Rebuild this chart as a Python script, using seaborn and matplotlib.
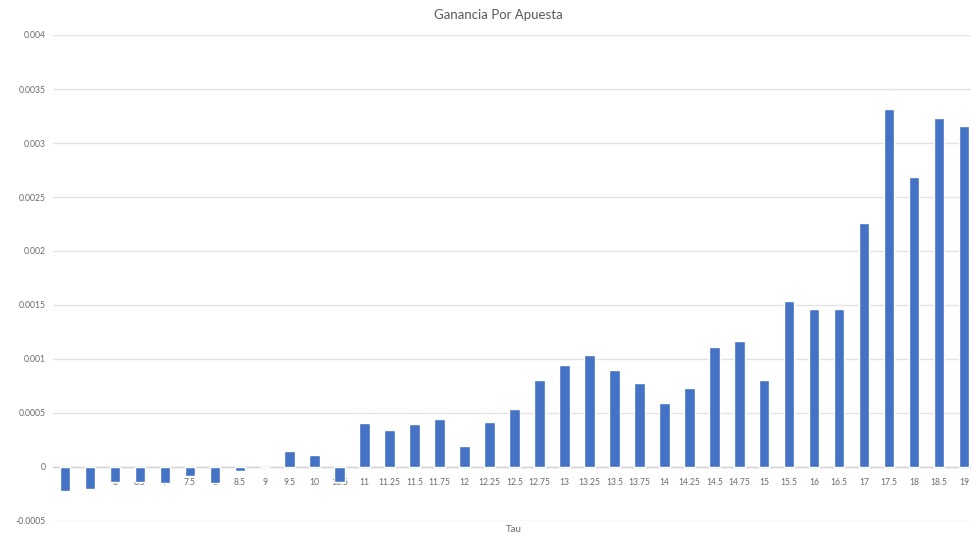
import matplotlib
matplotlib.use("Agg")
import matplotlib.pyplot as plt
import seaborn as sns
import pandas as pd

# Tau values (category labels along the x axis)
tau_labels = ["5", "5.5", "6", "6.5", "7", "7.5", "8", "8.5", "9", "9.5", "10", "10.5",
              "11", "11.25", "11.5", "11.75", "12", "12.25", "12.5", "12.75", "13",
              "13.25", "13.5", "13.75", "14", "14.25", "14.5", "14.75", "15", "15.5",
              "16", "16.5", "17", "17.5", "18", "18.5", "19"]

# Profit per bet for each tau
ganancia = [-0.00022, -0.00020, -0.00014, -0.00014, -0.00015, -0.000086, -0.00015,
            -0.00004, 0.0, 0.00015, 0.00011, -0.000136,
            0.000405, 0.00034, 0.0004, 0.00044, 0.000195, 0.000415, 0.000535,
            0.000805, 0.000947, 0.001034, 0.000898, 0.000775, 0.000595, 0.000734,
            0.001114, 0.001167, 0.000806, 0.00154, 0.00146, 0.00146, 0.002256,
            0.003318, 0.002688, 0.003234, 0.003157]

y_ticks = [-0.0005, 0, 0.0005, 0.001, 0.0015, 0.002, 0.0025, 0.003, 0.0035, 0.004]
y_tick_labels = ["-0.0005", "0", "0.0005", "0.001", "0.0015", "0.002", "0.0025",
                 "0.003", "0.0035", "0.004"]

df = pd.DataFrame({"Tau": tau_labels, "Ganancia": ganancia})

sns.set_theme(style="white")
plt.rcParams["font.family"] = ["Lato", "DejaVu Sans"]

W, H = 971, 549
fig = plt.figure(figsize=(W / 100, H / 100), dpi=100)
left_px, right_px = 52.5, 976.5
top_px, bottom_px = 35, 521
ax = fig.add_axes([left_px / W, (H - bottom_px) / H,
                   (right_px - left_px) / W, (bottom_px - top_px) / H])

sns.barplot(data=df, x="Tau", y="Ganancia", order=tau_labels, color="#4472C4",
            saturation=1, width=0.42, ax=ax, zorder=3)

ax.set_xlim(-0.5, len(tau_labels) - 0.5)
ax.set_ylim(-0.0005, 0.004)
ax.set_yticks(y_ticks)
ax.set_yticklabels(y_tick_labels)

grid_color = "#e3e3e3"
ax.yaxis.grid(True, color=grid_color, linewidth=1.0, zorder=0)
ax.xaxis.grid(False)

for side in ["top", "right", "left"]:
    ax.spines[side].set_visible(False)
ax.spines["bottom"].set_position(("data", 0))
ax.spines["bottom"].set_color("#d4d4d4")
ax.spines["bottom"].set_linewidth(1.0)
ax.spines["bottom"].set_zorder(2)

text_color = "#6b6b6b"
ax.tick_params(axis="x", length=0, pad=8, labelsize=6.2, labelcolor=text_color)
ax.tick_params(axis="y", length=0, pad=5, labelsize=6.2, labelcolor=text_color)

ax.set_xlabel("")
ax.set_ylabel("")
fig.text(514 / W, 1 - 530 / H, "Tau", ha="center", va="center",
         fontsize=7, color=text_color)
fig.text(498 / W, 1 - 15 / H, "Ganancia Por Apuesta", ha="center", va="center",
         fontsize=9.5, color="#595959")

fig.savefig("out.png", dpi=100)
